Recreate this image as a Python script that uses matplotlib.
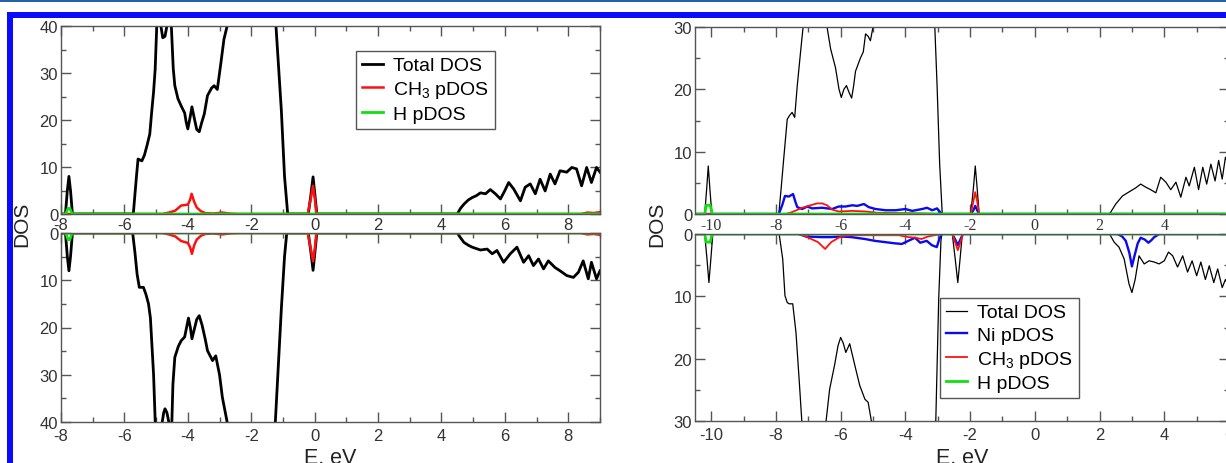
#!/usr/bin/env python
# -*- coding: utf-8 -*-

# dos_panels.py - spin up / spin down DOS for two CH3 adsorption cases
import matplotlib
matplotlib.use("Agg")
import matplotlib.pyplot as plt
from matplotlib.patches import Rectangle
from matplotlib.ticker import MultipleLocator

plt.rcParams['font.family'] = ['Liberation Sans', 'DejaVu Sans']
plt.rcParams['mathtext.fontset'] = 'custom'
plt.rcParams['mathtext.rm'] = 'Liberation Sans'
plt.rcParams['mathtext.it'] = 'Liberation Sans:italic'
plt.rcParams['axes.unicode_minus'] = False

# ---- data, (E in eV, DOS) ----
# left panel
left_total_up = [
    (-8.0, 0), (-7.86, 0), (-7.8, 5), (-7.75, 8), (-7.7, 5), (-7.64, 0),
    (-5.72, 0), (-5.62, 8), (-5.57, 11.7), (-5.45, 11.3), (-5.37, 12.5),
    (-5.29, 14.5), (-5.2, 17), (-5.14, 21.7), (-5.08, 26), (-5.03, 30.8),
    (-4.98, 40), (-4.92, 46), (-4.85, 40), (-4.79, 37.5), (-4.72, 37.8),
    (-4.66, 40), (-4.6, 44), (-4.52, 40), (-4.46, 31), (-4.41, 27.3),
    (-4.31, 24.5), (-4.21, 23), (-4.1, 21.5), (-4.05, 19.5), (-4.0, 18.1),
    (-3.93, 20.5), (-3.87, 22.8), (-3.8, 20.5), (-3.72, 18), (-3.64, 17.5),
    (-3.56, 19.5), (-3.48, 21.3), (-3.38, 25.2), (-3.25, 26.8), (-3.17, 27.3),
    (-3.07, 26.5), (-2.96, 32), (-2.86, 37.2), (-2.76, 40), (-2.6, 48),
    (-2.0, 60), (-1.4, 55), (-1.22, 40), (-1.05, 22), (-0.95, 8), (-0.85, 0),
    (-0.2, 0), (-0.12, 4), (-0.05, 7.9), (0.01, 4), (0.07, 0),
    (4.5, 0), (4.6, 1.2), (4.71, 2.1), (4.85, 3.0), (4.97, 3.5), (5.1, 3.9),
    (5.23, 4.5), (5.39, 4.3), (5.54, 5.2), (5.70, 4.3), (5.86, 3.2),
    (6.0, 5.0), (6.12, 6.7), (6.28, 5.3), (6.49, 2.8), (6.64, 5.7),
    (6.8, 6.4), (6.96, 4.3), (7.11, 7.4), (7.27, 4.9), (7.43, 8.5),
    (7.58, 6.4), (7.74, 9.2), (7.95, 8.9), (8.11, 9.9), (8.26, 9.6),
    (8.42, 6.0), (8.58, 9.9), (8.73, 6.7), (8.89, 9.9), (9.0, 8.9)]
left_total_dn = [
    (-8.0, 0), (-7.86, 0), (-7.8, 5), (-7.75, 8), (-7.7, 5), (-7.64, 0),
    (-5.74, 0), (-5.67, 4), (-5.6, 8.7), (-5.53, 11.5), (-5.4, 11.5),
    (-5.32, 13), (-5.24, 15), (-5.18, 18), (-5.14, 22.8), (-5.08, 30),
    (-5.03, 39.7), (-4.98, 46), (-4.83, 41), (-4.76, 38), (-4.72, 37.2),
    (-4.66, 38), (-4.6, 40), (-4.52, 44), (-4.47, 32), (-4.41, 26.3),
    (-4.3, 24), (-4.21, 22.8), (-4.1, 22), (-4.04, 20), (-3.98, 18),
    (-3.92, 20), (-3.87, 22.4), (-3.8, 20.5), (-3.72, 18.3), (-3.64, 17.5),
    (-3.55, 19.5), (-3.45, 22.5), (-3.38, 24.9), (-3.22, 27), (-3.12, 26),
    (-3.0, 30), (-2.91, 34.8), (-2.76, 40), (-2.6, 48), (-2.0, 60),
    (-1.4, 55), (-1.24, 40), (-1.05, 16), (-0.95, 5), (-0.88, 0),
    (-0.2, 0), (-0.12, 4), (-0.05, 7.9), (0.01, 4), (0.07, 0),
    (4.5, 0), (4.6, 1.0), (4.71, 2.0), (4.85, 2.6), (4.97, 3.0), (5.1, 3.3),
    (5.23, 3.6), (5.44, 3.4), (5.6, 4.4), (5.75, 3.7), (5.96, 6.2),
    (6.17, 4.4), (6.38, 3.0), (6.59, 6.2), (6.75, 4.8), (6.9, 6.9),
    (7.06, 5.5), (7.22, 7.6), (7.37, 5.9), (7.58, 7.3), (7.74, 8.0),
    (7.95, 9.0), (8.16, 9.4), (8.32, 8.3), (8.47, 5.9), (8.63, 9.7),
    (8.73, 6.2), (8.89, 9.7), (9.0, 8.0)]
left_ch3_up = [
    (-8.0, 0), (-4.8, 0), (-4.6, 0.3), (-4.4, 0.7), (-4.21, 1.8),
    (-4.0, 2.0), (-3.93, 3.0), (-3.88, 4.3), (-3.8, 2.6), (-3.72, 1.4),
    (-3.59, 0.6), (-3.45, 0.2), (-3.2, 0.1), (-2.9, 0.3), (-2.7, 0.1),
    (-2.4, 0), (-0.22, 0), (-0.13, 3), (-0.05, 6.0), (0.01, 3), (0.06, 0),
    (8.4, 0), (8.6, 0.3), (8.8, 0.2), (9.0, 0.4)]
left_ch3_dn = [
    (-8.0, 0), (-4.8, 0), (-4.6, 0.3), (-4.4, 0.7), (-4.21, 1.7),
    (-4.0, 2.1), (-3.93, 3.0), (-3.87, 4.4), (-3.8, 2.6), (-3.72, 1.4),
    (-3.59, 0.6), (-3.45, 0.2), (-3.2, 0.1), (-2.9, 0.3), (-2.7, 0.1),
    (-2.4, 0), (-0.22, 0), (-0.13, 3), (-0.05, 6.0), (0.01, 3), (0.06, 0),
    (8.4, 0), (8.6, 0.3), (8.8, 0.2), (9.0, 0.4)]
left_h_up = [(-8.0, 0), (-7.85, 0), (-7.78, 1.2), (-7.72, 1.2),
             (-7.65, 0), (9.0, 0)]
left_h_dn = [(-8.0, 0), (-7.85, 0), (-7.78, 1.4), (-7.72, 1.4),
             (-7.65, 0), (9.0, 0)]

# right panel
right_total_up = [
    (-10.5, 0), (-10.2, 0), (-10.14, 4), (-10.09, 7.7), (-10.04, 4),
    (-9.98, 0), (-7.91, 0), (-7.84, 4), (-7.76, 8.8), (-7.65, 15.2),
    (-7.58, 15.8), (-7.5, 16.3), (-7.42, 15.5), (-7.34, 20.6), (-7.24, 25.9),
    (-7.16, 30), (-7.0, 38), (-6.6, 38), (-6.42, 30), (-6.31, 26.5),
    (-6.16, 23.5), (-6.05, 20), (-5.98, 18.7), (-5.9, 20), (-5.82, 20.6),
    (-5.74, 19.5), (-5.66, 18.6), (-5.6, 20.5), (-5.54, 22.9), (-5.39, 25.0),
    (-5.3, 26), (-5.23, 28.9), (-5.15, 28.5), (-5.08, 27.8), (-5.0, 30),
    (-4.8, 40), (-3.3, 40), (-3.09, 30), (-3.02, 20.6), (-2.94, 8),
    (-2.86, 0), (-1.98, 0), (-1.9, 4), (-1.84, 7.7), (-1.78, 4), (-1.72, 0),
    (2.31, 0), (2.5, 1.6), (2.71, 2.9), (2.96, 3.7), (3.12, 4.2), (3.27, 4.8),
    (3.43, 4.3), (3.58, 3.9), (3.74, 3.4), (3.89, 5.9), (4.05, 5.1),
    (4.2, 3.9), (4.36, 5.1), (4.51, 2.7), (4.67, 5.9), (4.77, 4.5),
    (4.93, 7.5), (5.06, 3.9), (5.19, 7.5), (5.31, 4.8), (5.44, 8.0),
    (5.57, 5.3), (5.68, 8.6), (5.79, 5.6), (5.89, 9.1), (6.0, 7.5)]
right_total_dn = [
    (-10.5, 0), (-10.2, 0), (-10.13, 4), (-10.07, 7.8), (-10.01, 4),
    (-9.95, 0), (-7.9, 0), (-7.79, 4), (-7.72, 9.9), (-7.65, 11),
    (-7.59, 11.2), (-7.48, 11.2), (-7.38, 15.8), (-7.27, 24.3), (-7.2, 30),
    (-7.0, 38), (-6.6, 38), (-6.45, 30), (-6.34, 24.9), (-6.19, 21.1),
    (-6.08, 17.9), (-6.0, 16.6), (-5.92, 17.5), (-5.84, 19), (-5.72, 17.6),
    (-5.56, 21.1), (-5.41, 24.3), (-5.25, 26.5), (-5.15, 27), (-5.05, 30),
    (-4.8, 40), (-3.3, 40), (-3.06, 30), (-2.97, 10.4), (-2.9, 1),
    (-2.87, 0), (-2.55, 0), (-2.46, 4), (-2.38, 7.8), (-2.31, 4), (-2.24, 0),
    (2.31, 0), (2.45, 1.3), (2.6, 2.1), (2.76, 4.0), (2.91, 8.0), (3.0, 9.4),
    (3.1, 7.3), (3.22, 3.5), (3.38, 4.8), (3.53, 4.3), (3.69, 4.5),
    (3.84, 4.8), (4.0, 4.3), (4.13, 2.9), (4.26, 3.5), (4.41, 5.3),
    (4.57, 3.5), (4.72, 6.1), (4.86, 4.3), (5.0, 6.7), (5.13, 4.5),
    (5.27, 7.3), (5.39, 5.1), (5.53, 7.8), (5.65, 5.6), (5.79, 8.6),
    (5.89, 7.3), (6.0, 8.5)]
right_ni_up = [
    (-10.5, 0), (-7.91, 0), (-7.8, 1.5), (-7.72, 2.9), (-7.6, 2.8),
    (-7.47, 3.2), (-7.4, 2.0), (-7.34, 1.1), (-7.19, 0.8), (-7.03, 1.2),
    (-6.88, 0.9), (-6.57, 1.0), (-6.26, 0.8), (-6.06, 1.2), (-5.85, 1.2),
    (-5.64, 1.4), (-5.49, 1.3), (-5.28, 1.6), (-5.13, 1.1), (-4.92, 0.8),
    (-4.61, 0.6), (-4.3, 0.6), (-4.0, 0.8), (-3.79, 0.5), (-3.48, 0.8),
    (-3.33, 1.0), (-3.17, 0.6), (-3.02, 0.9), (-2.88, 0), (-1.98, 0),
    (-1.9, 0.6), (-1.84, 1.3), (-1.78, 0.6), (-1.72, 0), (6.0, 0)]
right_ni_dn = [
    (-10.5, 0), (-7.3, 0), (-7.07, 0.4), (-6.6, 0.5), (-6.29, 0.5),
    (-5.99, 0.4), (-5.67, 0.5), (-5.25, 0.8), (-4.94, 1.1), (-4.63, 1.3),
    (-4.32, 1.5), (-4.11, 1.6), (-3.91, 1.1), (-3.7, 0.6), (-3.54, 1.4),
    (-3.34, 1.1), (-3.18, 1.8), (-3.03, 2.1), (-2.95, 0.8), (-2.88, 0),
    (-2.55, 0), (-2.45, 1.0), (-2.38, 1.8), (-2.31, 1.0), (-2.22, 0),
    (2.55, 0), (2.7, 0.4), (2.81, 1.1), (2.92, 3.0), (3.0, 5.2), (3.08, 3.5),
    (3.18, 1.5), (3.27, 0.6), (3.4, 0.9), (3.51, 1.4), (3.6, 1.0),
    (3.69, 0.5), (3.85, 0), (6.0, 0)]
right_ch3_up = [
    (-10.5, 0), (-7.7, 0), (-7.5, 0.3), (-7.19, 1.0), (-6.93, 1.4),
    (-6.73, 1.7), (-6.57, 1.7), (-6.42, 1.4), (-6.26, 0.7), (-6.06, 0.4),
    (-5.64, 0.5), (-5.23, 0.4), (-4.9, 0.2), (-3.5, 0.1), (-2.9, 0),
    (-1.98, 0), (-1.9, 2), (-1.84, 3.5), (-1.78, 2), (-1.72, 0), (6.0, 0)]
right_ch3_dn = [
    (-10.5, 0), (-7.3, 0), (-7.12, 0.3), (-6.91, 0.8), (-6.7, 1.3),
    (-6.48, 2.4), (-6.29, 1.3), (-6.13, 0.8), (-5.95, 0.3), (-5.6, 0.2),
    (-4.2, 0.2), (-3.9, 0.5), (-3.7, 0.6), (-3.5, 0.8), (-3.3, 0.4),
    (-3.0, 0.1), (-2.9, 0), (-2.55, 0), (-2.45, 1.5), (-2.38, 2.6),
    (-2.31, 1.5), (-2.22, 0), (6.0, 0)]
right_h_up = [(-10.5, 0), (-10.2, 0), (-10.15, 1.4), (-10.03, 1.4),
              (-9.97, 0), (6.0, 0)]
right_h_dn = [(-10.5, 0), (-10.2, 0), (-10.15, 1.3), (-10.03, 1.3),
              (-9.97, 0), (6.0, 0)]

W, H = 1226, 464
BLACK, RED, GREEN, BLUE = '#000000', '#ff1010', '#10e010', '#0a0af0'
SPINE = '#555555'

fig = plt.figure(figsize=(W / 100, H / 100), dpi=100)


def px_axes(x0, y0, x1, y1):
    """ add axes from a pixel box (top-left origin) """
    return fig.add_axes([x0 / W, 1 - y1 / H, (x1 - x0) / W, (y1 - y0) / H])


def style(ax, xlim, ylim, ymax, xticks):
    ax.set_xlim(*xlim)
    ax.set_ylim(*ylim)
    ax.set_xticks(xticks)
    ax.xaxis.set_minor_locator(MultipleLocator(1))
    ax.set_yticks(range(0, ymax + 1, 10))
    ax.yaxis.set_minor_locator(MultipleLocator(5))
    ax.tick_params(which='both', direction='in', top=True, right=True,
                   color=SPINE, width=1.0, labelsize=12, labelcolor='#333333')
    ax.tick_params(which='major', length=7)
    ax.tick_params(which='minor', length=3.5)
    ax.tick_params(axis='y', pad=2)
    for s in ax.spines.values():
        s.set_color(SPINE)
        s.set_linewidth(1.0)


def draw(ax, series):
    for pts, color, lw in series:
        e, v = zip(*pts)
        ax.plot(e, v, color=color, lw=lw, solid_joinstyle='round')


# left panel
ax_lu = px_axes(61, 27, 600, 215)
ax_ld = px_axes(61, 234, 600, 423)
draw(ax_lu, [(left_total_up, BLACK, 2.0), (left_ch3_up, RED, 1.8),
             (left_h_up, GREEN, 2.0)])
draw(ax_ld, [(left_total_dn, BLACK, 2.0), (left_ch3_dn, RED, 1.8),
             (left_h_dn, GREEN, 2.0)])
style(ax_lu, (-8, 9), (0, 40), 40, range(-8, 9, 2))
style(ax_ld, (-8, 9), (40, 0), 40, range(-8, 9, 2))
ax_lu.tick_params(axis='x', pad=2)
ax_ld.tick_params(axis='x', pad=4)

# right panel
ax_ru = px_axes(695, 28, 1229, 215)
ax_rd = px_axes(695, 235, 1229, 422)
draw(ax_ru, [(right_total_up, BLACK, 0.9), (right_ni_up, BLUE, 1.7),
             (right_ch3_up, RED, 1.3), (right_h_up, GREEN, 2.0)])
draw(ax_rd, [(right_total_dn, BLACK, 0.9), (right_ni_dn, BLUE, 1.7),
             (right_ch3_dn, RED, 1.3), (right_h_dn, GREEN, 2.0)])
style(ax_ru, (-10.5, 6), (0, 30), 30, range(-10, 7, 2))
style(ax_rd, (-10.5, 6), (30, 0), 30, range(-10, 7, 2))
ax_ru.tick_params(axis='x', pad=2)
ax_rd.tick_params(axis='x', pad=4)
for lab in ax_ru.get_xticklabels():
    lab.set_fontfamily(['Liberation Serif', 'DejaVu Serif'])
    lab.set_fontsize(11.5)

# legends
leg_kw = dict(fontsize=14, frameon=True, fancybox=False, framealpha=1,
              edgecolor=SPINE, handlelength=1.1, handletextpad=0.5,
              borderpad=0.3, labelspacing=0.25, borderaxespad=0)
hl = [plt.Line2D([], [], color=BLACK, lw=2.0),
      plt.Line2D([], [], color=RED, lw=1.8),
      plt.Line2D([], [], color=GREEN, lw=2.0)]
leg = ax_lu.legend(hl, ['Total DOS', 'CH$_3$ pDOS', 'H pDOS'], loc='upper left',
                   bbox_to_anchor=(356 / W, 1 - 52 / H),
                   bbox_transform=fig.transFigure, **leg_kw)
leg.get_frame().set_linewidth(1.0)
hr = [plt.Line2D([], [], color=BLACK, lw=0.9),
      plt.Line2D([], [], color=BLUE, lw=1.7),
      plt.Line2D([], [], color=RED, lw=1.3),
      plt.Line2D([], [], color=GREEN, lw=2.0)]
leg = ax_rd.legend(hr, ['Total DOS', 'Ni pDOS', 'CH$_3$ pDOS', 'H pDOS'],
                   loc='upper left', bbox_to_anchor=(940 / W, 1 - 299 / H),
                   bbox_transform=fig.transFigure, **leg_kw)
leg.get_frame().set_linewidth(1.0)

# axis titles
for xc in (22, 657):
    fig.text(xc / W, 1 - 224 / H, 'DOS', rotation=90, ha='center',
             va='center', fontsize=15, color='#222222')
for xc in (330, 962):
    fig.text(xc / W, 1 - 448 / H, 'E, eV', ha='center', va='top',
             fontsize=15.5, color='#222222')

# page frame
fig.add_artist(Rectangle((0, 1 - 2.5 / H), 1, 2.5 / H, transform=fig.transFigure,
                         color='#2262a8', lw=0))
fig.add_artist(Rectangle((7 / W, 1 - 19 / H), 1, 6 / H, transform=fig.transFigure,
                         color='#0a0aff', lw=0))
fig.add_artist(Rectangle((7 / W, 0), 6 / W, 1 - 13 / H, transform=fig.transFigure,
                         color='#0a0aff', lw=0))

fig.savefig('out.png', dpi=100)
